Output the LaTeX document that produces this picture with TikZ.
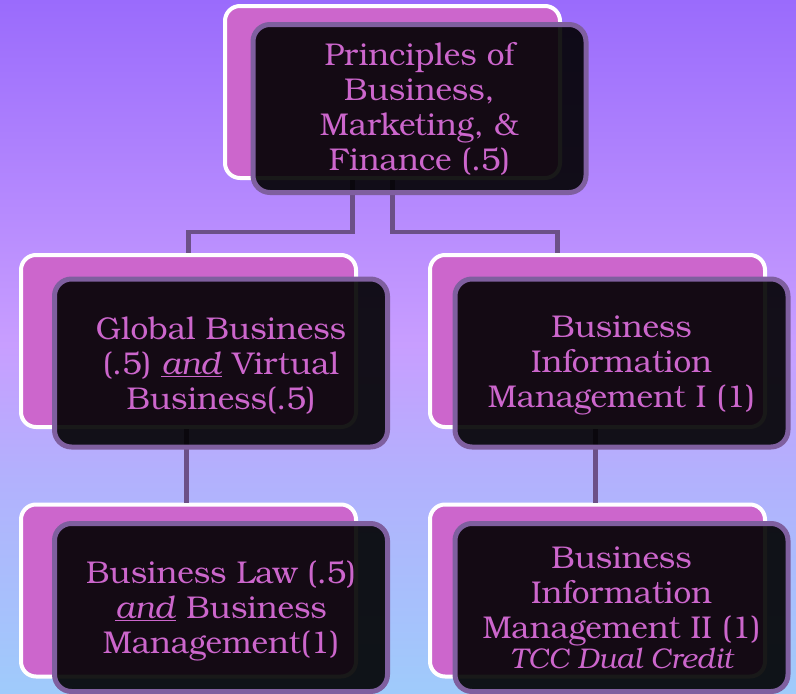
\documentclass[tikz,border=0pt]{standalone}
\usepackage{fontspec}
\setmainfont{TeX Gyre Bonum}
\definecolor{bgtop}{HTML}{9A6BFC}
\definecolor{bgmid}{HTML}{C89EFF}
\definecolor{bgmid2}{HTML}{B3B0FD}
\definecolor{bgbot}{HTML}{9FCBFB}
\definecolor{pinkfill}{HTML}{CC66CC}
\definecolor{txt}{HTML}{CC66CC}
\definecolor{frontedge}{HTML}{7F5F9F}
\definecolor{conncol}{HTML}{6C5088}
\tikzset{
  backbox/.style={draw=white, line width=4pt, fill=pinkfill, rounded corners=15pt,
    minimum width=335pt, minimum height=172pt, inner sep=0pt},
  frontbox/.style={draw=frontedge, line width=5pt, fill=black, fill opacity=0.9, text opacity=1,
    rounded corners=17pt, minimum width=333pt, minimum height=168pt, inner sep=0pt,
    text=txt, align=center, font=\fontsize{31.5pt}{35pt}\selectfont},
  conn/.style={draw=conncol, line width=4.5pt}
}
\begin{document}
\begin{tikzpicture}[x=1pt,y=-1pt]
\shade[top color=bgtop, bottom color=bgmid] (0,0) rectangle (796,345);
\shade[top color=bgmid, bottom color=bgmid2] (0,344.5) rectangle (796,471);
\shade[top color=bgmid2, bottom color=bgbot] (0,470.5) rectangle (796,694);
\useasboundingbox (0,0) rectangle (796,694);
% back boxes
\node[backbox] (tb) at (392.5,92) {};
\node[backbox] (lb) at (188.5,341) {};
\node[backbox] (rb) at (597.5,341) {};
\node[backbox] (llb) at (188.5,590.5) {};
\node[backbox] (rrb) at (597.5,590.5) {};
% connectors
\draw[conn] ([xshift=-40pt]tb.south) -- ++(0,52) -| (lb.north);
\draw[conn] (tb.south) -- ++(0,52) -| ([xshift=-40pt]rb.north);
\draw[conn] ([xshift=-2pt]lb.south) -- ([xshift=-2pt]llb.north);
\draw[conn] ([xshift=-2pt]rb.south) -- ([xshift=-2pt]rrb.north);
% front boxes
\node[frontbox] (t) at (419.5,108.5) {Principles of\\Business,\\Marketing, \&\\Finance (.5)};
\node[frontbox] (l) at (221,363) {\rule{0pt}{27pt}Global Business\\(.5) \underline{\textit{and}} Virtual\\Business(.5)};
\node[frontbox] (r) at (621.5,363) {\rule{0pt}{27pt}Business\\Information\\Management I (1)};
\node[frontbox] (ll) at (221,607.5) {\rule{0pt}{29pt}Business Law (.5)\\\underline{\textit{and}} Business\\Management(1)};
\node[frontbox] (rr) at (621.5,607.5) {Business\\Information\\Management II (1)\\[-5pt]{\fontsize{28.5pt}{30pt}\selectfont\itshape TCC Dual Credit}};
\end{tikzpicture}
\end{document}
